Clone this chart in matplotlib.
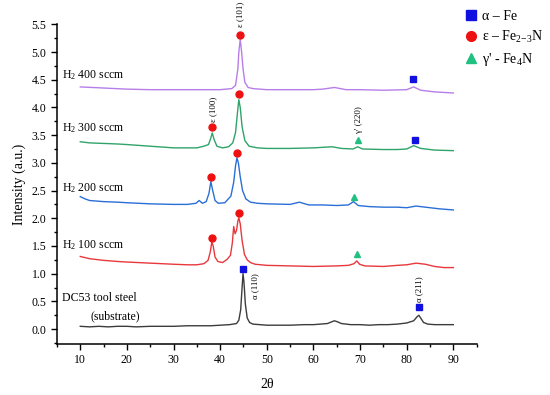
import matplotlib
matplotlib.use("Agg")
import matplotlib.pyplot as plt
from matplotlib.ticker import MultipleLocator, FormatStrFormatter
from matplotlib.lines import Line2D

plt.rcParams['font.family'] = ['Liberation Serif', 'DejaVu Serif']
plt.rcParams['mathtext.fontset'] = 'custom'
plt.rcParams['mathtext.rm'] = 'Liberation Serif'
plt.rcParams['mathtext.it'] = 'Liberation Serif:italic'

# DC53 substrate
sub_x = [10, 12, 14, 16, 18, 20, 22, 25, 28, 30, 33, 35, 38, 40, 42, 43.5, 44.0, 44.4, 44.7, 44.9, 45.1, 45.4,
         45.8, 46.3, 47, 50, 53, 55, 58, 60, 63, 64.5, 65.2, 66, 68, 70, 72, 74, 76, 78, 80, 81.5, 82.2, 82.6,
         83, 83.6, 84.5, 86, 88, 90]
sub_y = [0.05, 0.04, 0.05, 0.04, 0.05, 0.05, 0.04, 0.05, 0.05, 0.05, 0.06, 0.06, 0.06, 0.07, 0.08, 0.10, 0.16, 0.35,
         0.75, 1.0, 0.85, 0.45, 0.2, 0.12, 0.09, 0.07, 0.07, 0.07, 0.08, 0.08, 0.10, 0.15, 0.13, 0.10, 0.08, 0.08,
         0.07, 0.08, 0.08, 0.09, 0.11, 0.15, 0.22, 0.25, 0.2, 0.12, 0.09, 0.08, 0.08, 0.08]

# H2 100 sccm
h100_x = [10, 12, 15, 18, 20, 25, 30, 33, 35, 36.5, 37.4, 37.9, 38.2, 38.5, 38.9, 39.5, 40.5, 41.5, 42.2, 42.6,
          42.9, 43.2, 43.5, 43.8, 44.0, 44.3, 44.7, 45.2, 45.8, 46.5, 47.5, 50, 55, 60, 65, 67.5, 68.7, 69.3,
          69.9, 71, 75, 78, 80, 82, 84, 86, 88, 90]
h100_y = [1.31, 1.27, 1.24, 1.22, 1.21, 1.19, 1.17, 1.16, 1.16, 1.18, 1.24, 1.4, 1.57, 1.5, 1.3, 1.22, 1.2, 1.26,
          1.33, 1.55, 1.85, 1.72, 1.78, 1.95, 2.01, 1.9, 1.6, 1.35, 1.25, 1.2, 1.17, 1.15, 1.14, 1.13, 1.14, 1.15,
          1.18, 1.23, 1.17, 1.14, 1.13, 1.15, 1.16, 1.19, 1.17, 1.13, 1.11, 1.11]

# H2 200 sccm
h200_x = [10, 11, 12, 15, 18, 20, 25, 30, 33, 34.8, 35.5, 36.2, 37.0, 37.6, 38.0, 38.4, 38.9, 39.6, 41, 42.3,
          42.9, 43.3, 43.6, 43.9, 44.3, 44.8, 45.5, 46.5, 48, 50, 55, 57, 59, 62, 65, 67.5, 68.6, 69.6, 72, 75,
          78, 80, 82, 84, 87, 90]
h200_y = [2.39, 2.35, 2.32, 2.3, 2.29, 2.28, 2.26, 2.25, 2.25, 2.27, 2.32, 2.27, 2.3, 2.45, 2.66, 2.5, 2.32, 2.27,
          2.28, 2.4, 2.65, 2.95, 3.09, 3.0, 2.75, 2.5, 2.35, 2.29, 2.27, 2.26, 2.25, 2.29, 2.24, 2.24, 2.23, 2.24,
          2.3, 2.23, 2.21, 2.2, 2.2, 2.19, 2.22, 2.2, 2.17, 2.15]

# H2 300 sccm
h300_x = [10, 12, 15, 18, 20, 25, 30, 35, 36.5, 37.5, 38.0, 38.3, 38.7, 39.3, 40.5, 41.8, 42.7, 43.3, 43.7, 44.0,
          44.3, 44.7, 45.3, 46.2, 48, 50, 55, 60, 64, 66, 68.5, 69.5, 70.5, 75, 78, 80, 81.5, 83, 86, 90]
h300_y = [3.38, 3.36, 3.35, 3.34, 3.33, 3.3, 3.27, 3.27, 3.3, 3.33, 3.45, 3.54, 3.42, 3.3, 3.27, 3.29, 3.36, 3.55,
          3.9, 4.14, 4.0, 3.65, 3.4, 3.3, 3.27, 3.26, 3.26, 3.27, 3.29, 3.26, 3.25, 3.29, 3.25, 3.24, 3.24, 3.25,
          3.31, 3.26, 3.23, 3.22]

# H2 400 sccm
h400_x = [10, 15, 20, 25, 30, 35, 40, 42.5, 43.3, 43.8, 44.0, 44.3, 44.6, 44.9, 45.3, 46, 47, 50, 55, 60, 62,
          64.5, 67, 70, 75, 80, 81.5, 83, 86, 90]
h400_y = [4.37, 4.35, 4.33, 4.32, 4.32, 4.32, 4.32, 4.34, 4.4, 4.7, 5.0, 5.23, 5.0, 4.7, 4.45, 4.36, 4.34, 4.32,
          4.32, 4.32, 4.33, 4.36, 4.32, 4.32, 4.31, 4.32, 4.37, 4.31, 4.28, 4.26]

series = [
    (sub_x, sub_y, '#3c3c3c'),
    (h100_x, h100_y, '#e8383d'),
    (h200_x, h200_y, '#2a6fd6'),
    (h300_x, h300_y, '#2fa36a'),
    (h400_x, h400_y, '#b77ee8'),
]

# phase markers (2theta, height)
alpha_x = [45.0, 82.6, 81.8, 81.3]
alpha_y = [1.08, 0.40, 3.42, 4.51]
eps_x = [38.3, 44.0, 38.0, 43.6, 38.3, 44.0, 44.3]
eps_y = [1.64, 2.10, 2.75, 3.17, 3.65, 4.25, 5.31]
gam_x = [69.3, 68.6, 69.6]
gam_y = [1.35, 2.39, 3.42]

sample_labels = ['H$_2$ 400 sccm', 'H$_2$ 300 sccm', 'H$_2$ 200 sccm', 'H$_2$ 100 sccm', 'DC53 tool steel']
sample_label_y = [4.59, 3.62, 2.55, 1.51, 0.56]

peak_labels = ['ε (101)', 'ε (100)', "γ' (220)", 'α (110)', 'α (211)']
peak_label_x = [44.3, 38.5, 69.7, 47.5, 82.6]
peak_label_y = [5.67, 3.96, 3.78, 0.78, 0.72]

fig = plt.figure(figsize=(5.5, 3.95), dpi=100)
ax = fig.add_axes([0.1036, 0.129, 0.763, 0.8095])

for xs, ys, c in series:
    ax.plot(xs, ys, color=c, lw=1.0)

ax.plot(alpha_x, alpha_y, 's', color='#1010e0', ms=5, ls='none', clip_on=False)
ax.plot(eps_x, eps_y, 'o', color='#ee1111', ms=5, ls='none', clip_on=False)
ax.plot(gam_x, gam_y, '^', color='#20c080', ms=5, ls='none', clip_on=False)

for lab, y in zip(sample_labels, sample_label_y):
    ax.text(6.0, y, lab, fontsize=8.5, ha='left', va='center')
ax.text(12.2, 0.23, '(substrate)', fontsize=8.5, ha='left', va='center')

for lab, x, y in zip(peak_labels, peak_label_x, peak_label_y):
    ax.text(x, y, lab, fontsize=6.3, rotation=90, ha='center', va='center', clip_on=False)

ax.set_xlim(5, 95)
ax.set_ylim(-0.27, 5.5)
ax.xaxis.set_minor_locator(MultipleLocator(5))
ax.yaxis.set_minor_locator(MultipleLocator(0.25))
ax.set_xticks(range(10, 91, 10))
ax.set_yticks([i * 0.5 for i in range(12)])
ax.yaxis.set_major_formatter(FormatStrFormatter('%.1f'))

for s in ['top', 'right']:
    ax.spines[s].set_visible(False)
for s in ['left', 'bottom']:
    ax.spines[s].set_linewidth(1.1)
ax.tick_params(which='major', direction='out', length=4, width=1, labelsize=8.5)
ax.tick_params(which='minor', direction='out', length=2.5, width=1)

ax.set_xlabel('2θ', fontsize=10, labelpad=8)
ax.set_ylabel('Intensity (a.u.)', fontsize=10, labelpad=4)

handles = [
    Line2D([], [], marker='s', color='#1010e0', ls='none', ms=7),
    Line2D([], [], marker='o', color='#ee1111', ls='none', ms=7),
    Line2D([], [], marker='^', color='#20c080', ls='none', ms=7),
]
legend_labels = ['α – Fe', 'ε – Fe$_{2\\mathregular{-}3}$N', "γ' - Fe$_4$N"]
fig.legend(handles, legend_labels, loc='upper left', bbox_to_anchor=(0.823, 1.0),
           frameon=False, fontsize=10, handletextpad=0.2, labelspacing=0.45, handlelength=1.2,
           borderpad=0.2)

fig.savefig('out.png', dpi=100)
